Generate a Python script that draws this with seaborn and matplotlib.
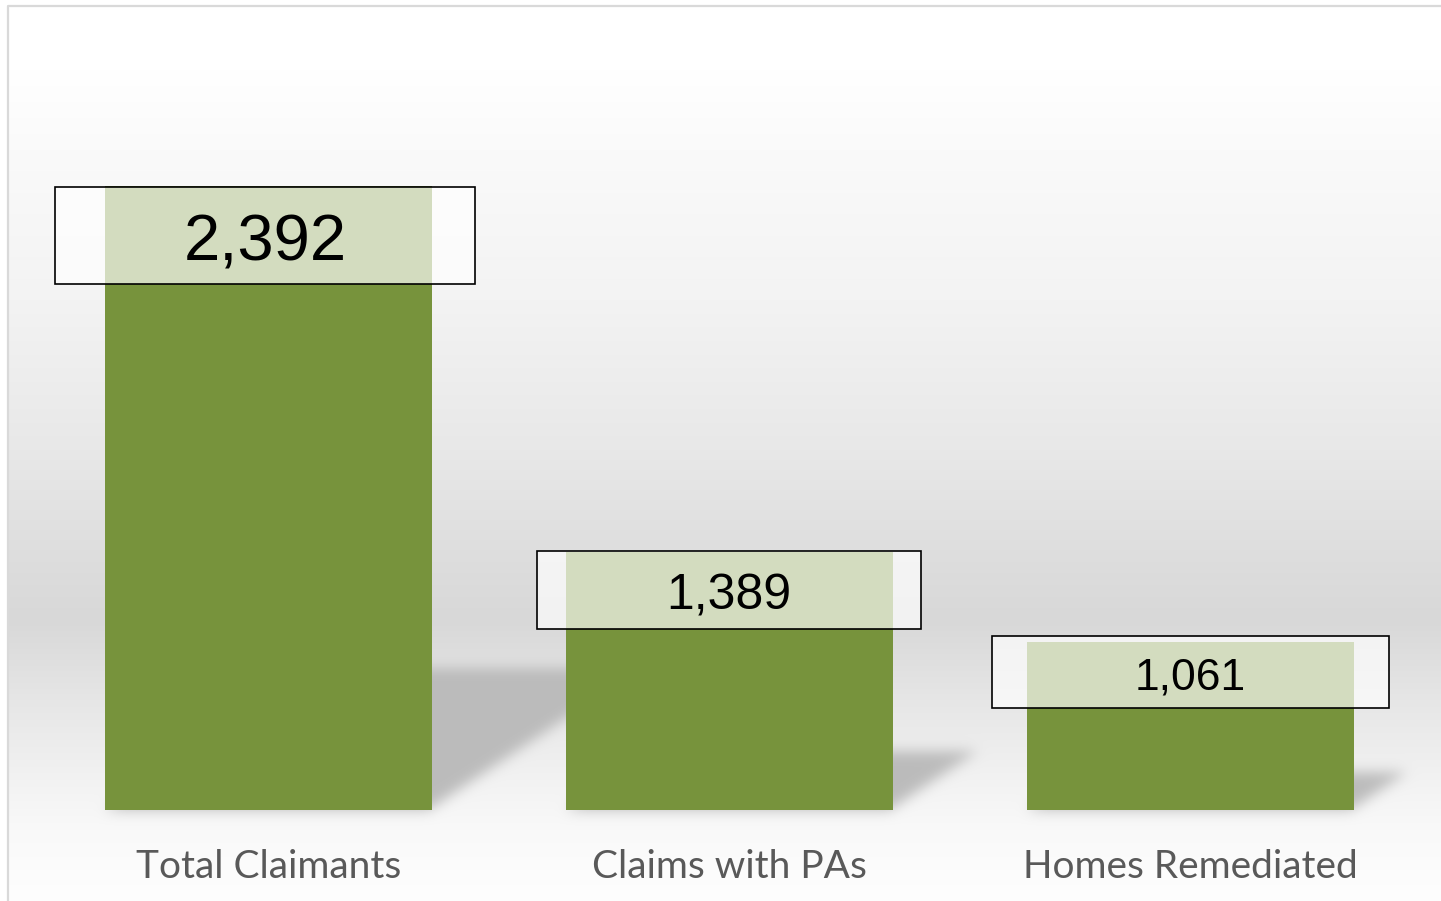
import numpy as np
import pandas as pd
import matplotlib
matplotlib.use("Agg")
import matplotlib.pyplot as plt
from matplotlib.patches import Rectangle
from matplotlib.lines import Line2D
import seaborn as sns

# ---------------- data ----------------
categories = ["Total Claimants", "Claims with PAs", "Homes Remediated"]
counts = [2392, 1389, 1061]            # printed values
bar_lengths = [2392, 989, 644]         # drawn bar lengths (read on the scale of the first bar)
value_labels = [f"{c:,}" for c in counts]

# ---------------- style / layout ----------------
W, H, DPI = 1441, 901, 100
BAR_COLOR = "#77933C"
LABEL_SIZES = [47, 36, 32]             # pt
BOX_W_PX = [420, 384, 397]
BOX_H_PX = [97, 78, 72]
BOX_DTOP_PX = [1, -1, -6]              # box top relative to bar top
BOX_DX_PX = [-3.5, -0.5, -0.5]

sns.set_theme(style="white")
plt.rcParams["font.family"] = ["Liberation Sans", "DejaVu Sans"]

fig = plt.figure(figsize=(W / DPI, H / DPI), dpi=DPI)
fig.patch.set_facecolor("white")

AX_L, AX_T = 9, 7                      # pixel offsets (left, top) of plotting area
ax = fig.add_axes([AX_L / W, 0, 1 - AX_L / W, 1 - AX_T / H])

df = pd.DataFrame({"category": categories, "value": bar_lengths})
sns.barplot(data=df, x="category", y="value", color=BAR_COLOR, saturation=1,
            width=0.71, linewidth=0, ax=ax, zorder=3)

# scales: category spacing 461 px, first bar center at 268.5 px, baseline 810 px
XPX, X0PX, BASE = 461.0, 268.5, 810.0
k = 624.0 / max(bar_lengths)           # px per unit
ax.set_xlim((AX_L - X0PX) / XPX, (W - X0PX) / XPX)
ax.set_ylim(-(H - BASE) / k, (BASE - AX_T) / k)
ax.axis("off")

# ---------------- background gradient + bar shadows ----------------
nrow, ncol = H - AX_T, W - AX_L
Y = AX_T + np.arange(nrow)[:, None] + 0.5
X = AX_L + np.arange(ncol)[None, :] + 0.5
stops_y = [0, 70, 150, 300, 450, 550, 620, 700, 780, 830, 870, 901]
stops_g = [255, 255, 250, 243, 232, 222, 216, 230, 242, 249, 252, 254]
bg = np.interp(Y, stops_y, stops_g) * np.ones_like(X)


def blur(a, sigma):
    r = int(3 * sigma)
    kern = np.exp(-0.5 * (np.arange(-r, r + 1) / sigma) ** 2)
    kern /= kern.sum()
    p = np.pad(a, ((0, 0), (r, r)), mode="edge")
    out = sum(kern[j] * p[:, j:j + a.shape[1]] for j in range(2 * r + 1))
    p = np.pad(out, ((r, r), (0, 0)), mode="edge")
    return sum(kern[j] * p[j:j + a.shape[0], :] for j in range(2 * r + 1))


mask = np.zeros((nrow, ncol))
for i, h in enumerate(bar_lengths):
    (lx, _), = ax.transData.transform([(i - 0.355, 0)])
    (rx, _), = ax.transData.transform([(i + 0.355, 0)])
    (_, ty), = ax.transData.transform([(i, h)])
    (_, by), = ax.transData.transform([(i, 0)])
    dy = 0.227 * (ty - by)
    t = BASE - Y
    inside = (t >= 0) & (t <= dy) & (X >= lx + 1.5 * t) & (X <= rx + 1.5 * t - 4)
    mask = np.maximum(mask, inside.astype(float))
mask = blur(mask, 6.5)
bg = bg + (186 - bg) * mask * 0.97

img = np.repeat(bg[:, :, None], 3, axis=2) / 255.0
x0, x1 = ax.get_xlim()
y0, y1 = ax.get_ylim()
ax.imshow(img, extent=(x0, x1, y0, y1), aspect="auto", zorder=0,
          interpolation="nearest")
ax.set_xlim(x0, x1)
ax.set_ylim(y0, y1)

# ---------------- value boxes ----------------
for i, h in enumerate(bar_lengths):
    top = h - BOX_DTOP_PX[i] / k
    bh = BOX_H_PX[i] / k
    bw = BOX_W_PX[i] / XPX
    cx = i + BOX_DX_PX[i] / XPX
    ax.add_patch(Rectangle((cx - bw / 2, top - bh), bw, bh, facecolor=(1, 1, 1, 0.68),
                           edgecolor="black", linewidth=1.2, zorder=4))
    em_px = LABEL_SIZES[i] * DPI / 72.0
    center_px = BASE - (top - bh / 2) * k
    base_px = center_px + 0.358 * em_px + 1.5
    ax.text(cx, (BASE - base_px) / k, value_labels[i], ha="center", va="baseline",
            fontsize=LABEL_SIZES[i], color="black", zorder=5,
            family=["Liberation Sans", "DejaVu Sans"])

# ---------------- category labels ----------------
for i, c in enumerate(categories):
    ax.text(i, -(878 - BASE) / k, c, ha="center", va="baseline", fontsize=28,
            color="#595959", zorder=5, family=["Lato", "DejaVu Sans"])

# ---------------- chart border ----------------
fig.add_artist(Line2D([8 / W, 8 / W, 1.0], [0.0, 1 - 6 / H, 1 - 6 / H],
                      transform=fig.transFigure, color="#d9d9d9", linewidth=1.6,
                      zorder=10))

fig.savefig("out.png", dpi=DPI)
